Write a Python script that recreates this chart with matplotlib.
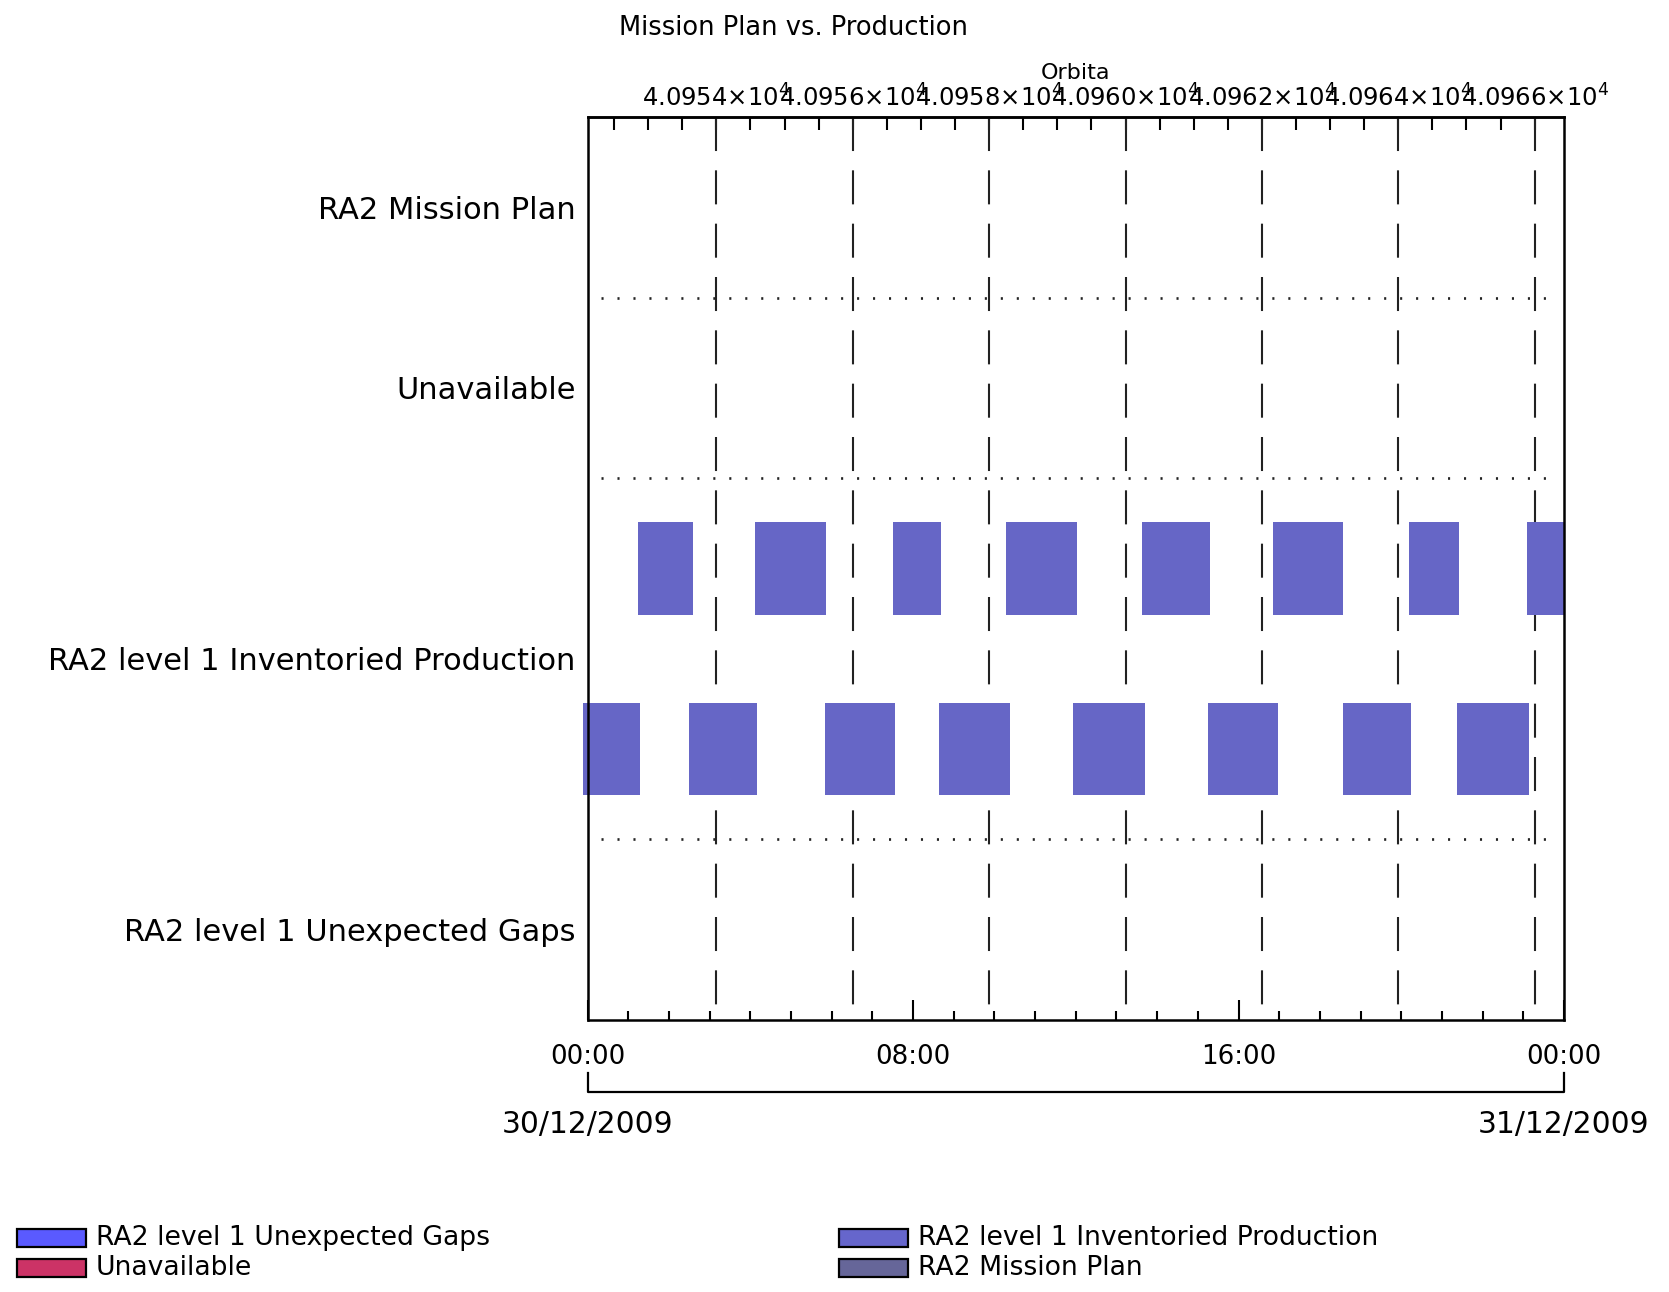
import matplotlib
matplotlib.use("Agg")
import matplotlib.pyplot as plt
from matplotlib.patches import Rectangle
from matplotlib.ticker import MultipleLocator
from matplotlib.transforms import blended_transform_factory

plt.rcParams["font.family"] = ["DejaVu Sans"]
plt.rcParams["lines.scale_dashes"] = False

W, H = 1669, 1292

# rows of the timeline, bottom to top (Inventoried Production takes two lanes)
ROW_LABELS = [
    "RA2 level 1 Unexpected Gaps",
    "RA2 level 1 Inventoried Production",
    "Unavailable",
    "RA2 Mission Plan",
]
ROW_CENTERS = [0.5, 2.0, 3.5, 4.5]
ROW_BOUNDS = [1, 3, 4]

# inventoried production segments, hours after 30/12/2009 00:00
UPPER_START = [1.23, 4.11, 7.51, 10.29, 13.64, 16.86, 20.18, 23.08]
UPPER_END = [2.59, 5.86, 8.69, 12.04, 15.31, 18.58, 21.41, 24.00]
LOWER_START = [-0.10, 2.49, 5.84, 8.64, 11.94, 15.26, 18.56, 21.38]
LOWER_END = [1.28, 4.16, 7.56, 10.39, 13.69, 16.96, 20.23, 23.14]

HOUR_TICKS = [0, 8, 16, 24]
HOUR_LABELS = ["00:00", "08:00", "16:00", "00:00"]
DATE_HOURS = [0, 24]
DATE_LABELS = ["30/12/2009", "31/12/2009"]

ORBIT_AT_T0 = 40952.11
ORBIT_HOURS = 1.676
ORBIT_TICKS = [40954, 40956, 40958, 40960, 40962, 40964, 40966]

LEGEND_LABELS = [
    "RA2 level 1 Unexpected Gaps",
    "Unavailable",
    "RA2 level 1 Inventoried Production",
    "RA2 Mission Plan",
]
LEGEND_COLORS = ["#5a5aff", "#cc3366", "#6666cc", "#666699"]
BAR_COLOR = "#6666c6"


def fx(px):
    return px / W


def fy(py):
    return 1 - py / H


def h2o(h):
    return ORBIT_AT_T0 + h / ORBIT_HOURS


def o2h(o):
    return (o - ORBIT_AT_T0) * ORBIT_HOURS


fig = plt.figure(figsize=(W / 100, H / 100), dpi=100)
ax = fig.add_axes([fx(587.5), fy(1020), fx(1564) - fx(587.5), fy(117) - fy(1020)])
ax.set_xlim(0, 24)
ax.set_ylim(0, 5)
for s in ax.spines.values():
    s.set_linewidth(1.8)

# orbit boundaries as dashed lines, drawn top-down so the dash starts at the top
for o in ORBIT_TICKS:
    x = o2h(o)
    ax.plot([x, x], [5, 0], color="#222222", lw=1.5, ls=(0, (24.5, 13.9)), zorder=1)

# dotted separators between rows (inset a little from both sides of the frame)
for b in ROW_BOUNDS:
    ax.axhline(b, xmin=0.014, xmax=0.986, color="#222222", lw=1.9,
               ls=(0, (1.5, 10.0)), zorder=1)

# two lanes of production bars
ax.barh([2.5] * len(UPPER_START), [e - s for s, e in zip(UPPER_START, UPPER_END)],
        left=UPPER_START, height=0.51, color=BAR_COLOR, zorder=2, clip_on=False)
ax.barh([1.5] * len(LOWER_START), [e - s for s, e in zip(LOWER_START, LOWER_END)],
        left=LOWER_START, height=0.51, color=BAR_COLOR, zorder=2, clip_on=False)

ax.set_yticks(ROW_CENTERS, ROW_LABELS)
ax.tick_params(axis="y", length=0, pad=8.6, labelsize=22)

ax.set_xticks(HOUR_TICKS, HOUR_LABELS)
ax.xaxis.set_minor_locator(MultipleLocator(1))
ax.tick_params(axis="x", which="major", direction="in", length=14.4, width=1.5,
               pad=17, labelsize=18.8, top=False)
ax.tick_params(axis="x", which="minor", direction="in", length=6.5, width=1.5, top=False)

# orbit axis on top
sec = ax.secondary_xaxis("top", functions=(h2o, o2h))
sec.set_xticks(ORBIT_TICKS, [f"{o / 1e4:.4f}×10$^4$" for o in ORBIT_TICKS])
sec.xaxis.set_minor_locator(MultipleLocator(0.5))
sec.tick_params(which="major", direction="in", length=9.5, width=1.5, pad=4, labelsize=17.5)
sec.tick_params(which="minor", direction="in", length=9.5, width=1.5)
sec.spines["top"].set_linewidth(1.8)

fig.text(fx(1075), fy(73), "Orbita", ha="center", va="center", fontsize=16)
fig.text(fx(619), fy(28), "Mission Plan vs. Production", ha="left", va="center", fontsize=18.5)

# date bracket under the time axis
tr = blended_transform_factory(ax.transData, fig.transFigure)
ax.plot([DATE_HOURS[0], DATE_HOURS[0], DATE_HOURS[1], DATE_HOURS[1]],
        [fy(1073), fy(1092), fy(1092), fy(1073)],
        color="black", lw=1.6, transform=tr, clip_on=False)
for h, lab in zip(DATE_HOURS, DATE_LABELS):
    ax.text(h, fy(1124), lab, transform=tr, ha="center", va="center", fontsize=21.4)

# legend, two columns
legend_x = [17, 17, 839, 839]
legend_y = [1238, 1268, 1238, 1268]
for lab, col, lx, ly in zip(LEGEND_LABELS, LEGEND_COLORS, legend_x, legend_y):
    fig.patches.append(Rectangle((fx(lx), fy(ly + 9)), fx(69), fy(0) - fy(18),
                                 transform=fig.transFigure, facecolor=col,
                                 edgecolor="black", lw=1.6))
    fig.text(fx(lx + 79), fy(ly), lab, ha="left", va="center", fontsize=19.2)

fig.savefig("out.png", dpi=100)
